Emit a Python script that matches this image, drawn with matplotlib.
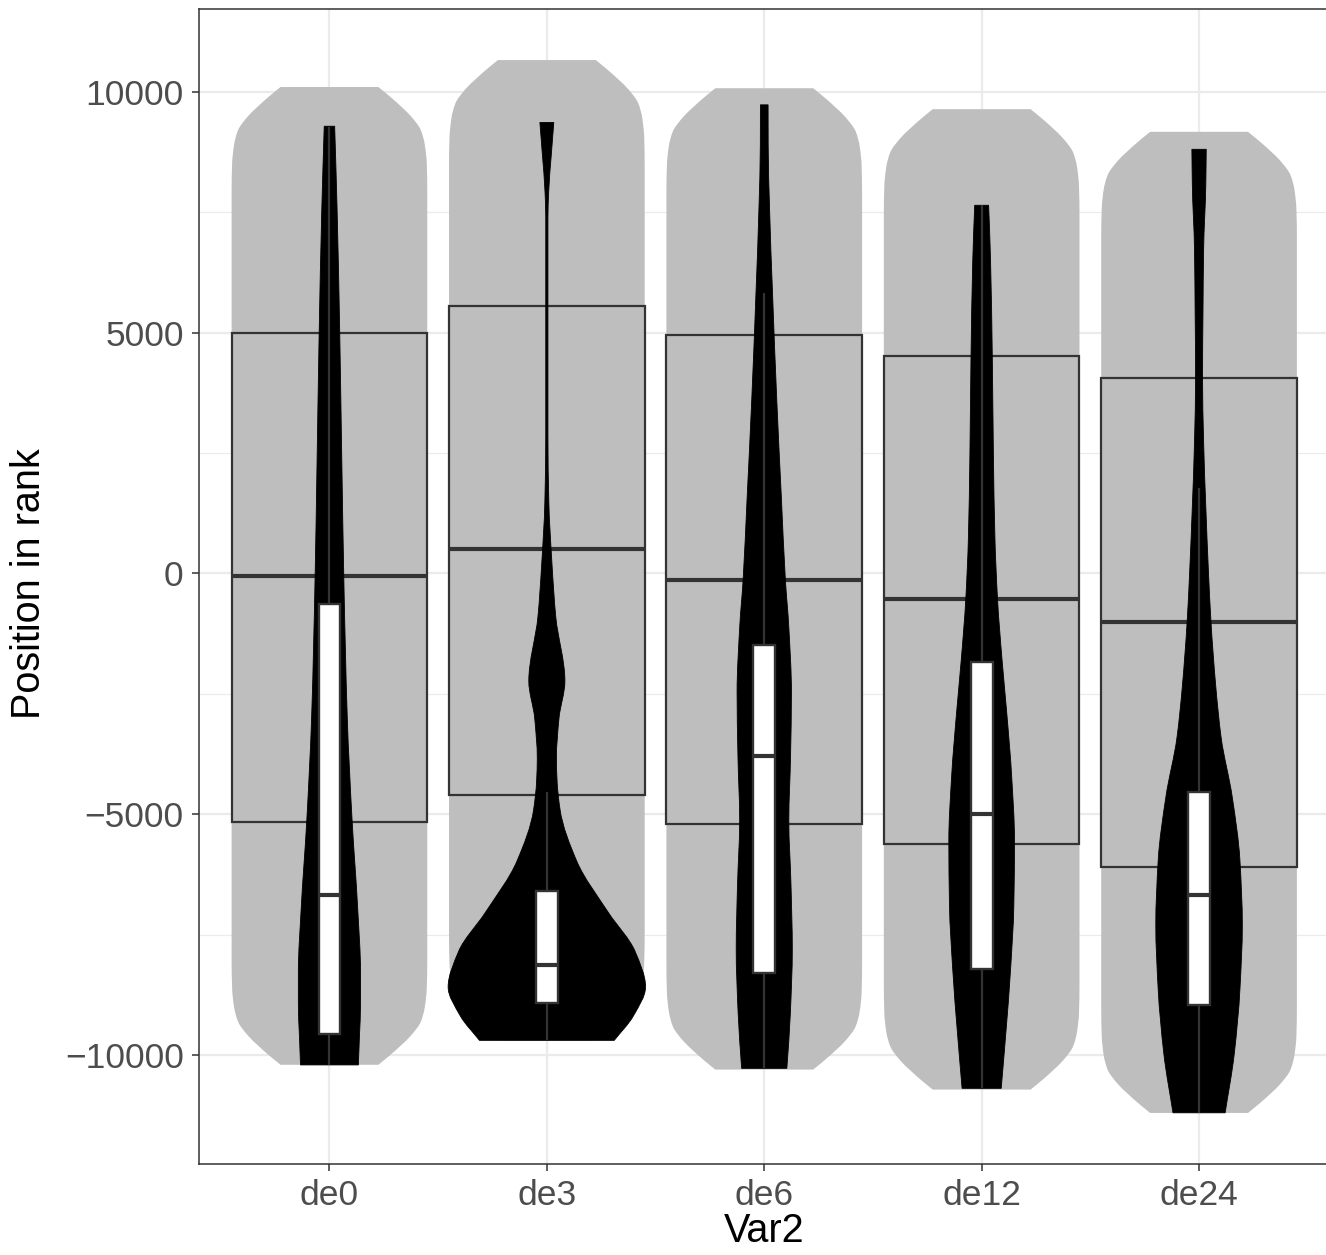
import numpy as np
import matplotlib
matplotlib.use("Agg")
import matplotlib.pyplot as plt
from matplotlib.path import Path
from matplotlib.patches import PathPatch, Rectangle
from matplotlib.ticker import FixedLocator

plt.rcParams['font.family'] = ['Liberation Sans', 'DejaVu Sans']

# ---------------- data ----------------
categories = ["de0", "de3", "de6", "de12", "de24"]

# gray background violins: extent and edge profile (distance from end, width fraction)
gray_top = [10100, 10660, 10075, 9640, 9170]
gray_bottom = [-10200, -9690, -10300, -10715, -11200]
gray_edge_dist = [0, 200, 400, 600, 900, 1200, 1600, 2200]
gray_edge_frac = [0.50, 0.62, 0.73, 0.83, 0.935, 0.975, 0.995, 1.0]

# gray boxes (quartiles / median)
gray_q1 = [-5150, -4600, -5200, -5625, -6095]
gray_med = [-55, 505, -130, -535, -1000]
gray_q3 = [4985, 5555, 4945, 4520, 4050]

# black violins: y values (top -> bottom) and half-widths (category units)
de0_y = [9286, 7591, 4946, 2299, -81, -2994, -5110, -6963, -8286, -8946, -9608, -10203]
de0_w = [0.024, 0.035, 0.0475, 0.057, 0.066, 0.082, 0.104, 0.130, 0.143, 0.143, 0.138, 0.133]

de3_y = [9365, 8722, 7921, 7386, 2842, 1506, 170, -898, -2234, -3000, -3838, -4300, -4909,
         -5977, -7046, -7848, -8583, -9185, -9693]
de3_w = [0.032, 0.021, 0.0084, 0.005, 0.005, 0.009, 0.024, 0.041, 0.083, 0.056, 0.044, 0.047,
         0.061, 0.138, 0.284, 0.406, 0.454, 0.398, 0.310]

de6_y = [9730, 8903, 7566, 5828, 3556, 1552, -118, -1120, -2456, -3793, -5129, -6466, -7803,
         -9139, -10274]
de6_w = [0.0176, 0.018, 0.0245, 0.038, 0.058, 0.079, 0.097, 0.113, 0.125, 0.121, 0.113, 0.123,
         0.129, 0.120, 0.104]

de12_y = [7645, 6483, 4479, 2474, 737, -533, -1803, -2871, -4208, -5544, -6881, -8218, -9554,
          -10689]
de12_w = [0.032, 0.041, 0.049, 0.054, 0.061, 0.073, 0.094, 0.115, 0.138, 0.151, 0.148, 0.133,
          0.111, 0.090]

de24_y = [8807, 8073, 6736, 5400, 4064, 2727, 1390, 54, -1015, -2351, -3421, -4623, -5959,
          -7296, -8633, -9969, -11197]
de24_w = [0.033, 0.031, 0.021, 0.018, 0.016, 0.021, 0.031, 0.043, 0.055, 0.077, 0.102, 0.152,
          0.188, 0.199, 0.188, 0.162, 0.120]

black_y = [de0_y, de3_y, de6_y, de12_y, de24_y]
black_w = [de0_w, de3_w, de6_w, de12_w, de24_w]

# white boxplots
white_q1 = [-9555, -8915, -8295, -8220, -8950]
white_med = [-6685, -8130, -3795, -4985, -6680]
white_q3 = [-635, -6590, -1480, -1840, -4545]
white_lo = [-10200, -9690, -10275, -10690, -11197]
white_hi = [9280, -4535, 5830, 7645, 1765]

# ---------------- styling ----------------
GRAY = "#BEBEBE"
DARK = "#333333"
DPI = 100
W, H = 1326, 1255


def pchip_slopes(y, x):
    h = np.diff(y)
    d = np.diff(x) / h
    n = len(y)
    m = np.zeros(n)
    m[0] = d[0]
    m[-1] = d[-1]
    for i in range(1, n - 1):
        if d[i - 1] * d[i] <= 0:
            m[i] = 0.0
        else:
            w1 = 2 * h[i] + h[i - 1]
            w2 = h[i] + 2 * h[i - 1]
            m[i] = (w1 + w2) / (w1 / d[i - 1] + w2 / d[i])
    return m


def side_beziers(y, x):
    """Smooth monotone-in-y curve through (x_i, y_i); y ascending.
    Returns Bezier verts (excluding the first point)."""
    m = pchip_slopes(y, x)
    verts = []
    for i in range(len(y) - 1):
        hh = y[i + 1] - y[i]
        verts.append((x[i] + m[i] * hh / 3, y[i] + hh / 3))
        verts.append((x[i + 1] - m[i + 1] * hh / 3, y[i + 1] - hh / 3))
        verts.append((x[i + 1], y[i + 1]))
    return verts


def violin_patch(ax, center, ys, ws, **kw):
    ys = np.asarray(ys, float)
    ws = np.asarray(ws, float)
    order = np.argsort(ys)
    yb = ys[order]
    wb = ws[order]
    verts = [(center + wb[0], yb[0])]
    codes = [Path.MOVETO]
    rv = side_beziers(yb, center + wb)
    verts += rv
    codes += [Path.CURVE4] * len(rv)
    # left side: top -> bottom (use negative y ordering)
    verts.append((center - wb[-1], yb[-1]))
    codes.append(Path.LINETO)
    lv = side_beziers(-yb[::-1], center - wb[::-1])
    lv = [(vx, -vy) for (vx, vy) in lv]
    verts += lv
    codes += [Path.CURVE4] * len(lv)
    verts.append((center + wb[0], yb[0]))
    codes.append(Path.CLOSEPOLY)
    p = PathPatch(Path(np.array(verts), codes), **kw)
    ax.add_patch(p)


fig = plt.figure(figsize=(W / DPI, H / DPI), dpi=DPI)
ax = fig.add_axes([199 / W, 91 / H, 1130.5 / W, 1155 / H])
ax.set_xlim(0.4, 5.6)
ax.set_ylim(-12260, 11720)

xpos = np.arange(1, len(categories) + 1)

for i, c in enumerate(xpos):
    # gray violin
    d = np.array(gray_edge_dist, float)
    f = np.array(gray_edge_frac, float)
    ys = np.concatenate([gray_bottom[i] + d, (gray_top[i] - d)[::-1]])
    ws = np.concatenate([f, f[::-1]]) * 0.45
    violin_patch(ax, c, ys, ws, facecolor=GRAY, edgecolor='none', zorder=2)

    # gray box
    ax.add_patch(Rectangle((c - 0.45, gray_q1[i]), 0.9, gray_q3[i] - gray_q1[i],
                           facecolor=GRAY, edgecolor=DARK, lw=1.6, zorder=3))
    ax.plot([c - 0.45, c + 0.45], [gray_med[i]] * 2, color=DARK, lw=3.0,
            solid_capstyle='butt', zorder=3.1)

    # black violin
    violin_patch(ax, c, black_y[i], black_w[i], facecolor='black', edgecolor='black',
                 lw=0.6, zorder=4)

    # white boxplot
    ax.plot([c, c], [white_q3[i], white_hi[i]], color=DARK, lw=1.6, zorder=5,
            solid_capstyle='butt')
    ax.plot([c, c], [white_lo[i], white_q1[i]], color=DARK, lw=1.6, zorder=5,
            solid_capstyle='butt')
    ax.add_patch(Rectangle((c - 0.05, white_q1[i]), 0.1, white_q3[i] - white_q1[i],
                           facecolor='white', edgecolor=DARK, lw=1.7, zorder=5.1))
    ax.plot([c - 0.05, c + 0.05], [white_med[i]] * 2, color=DARK, lw=3.0,
            solid_capstyle='butt', zorder=5.2)

# axes styling (theme_bw look)
ax.set_xticks(xpos)
ax.set_xticklabels(categories)
ax.set_yticks([-10000, -5000, 0, 5000, 10000])
ax.yaxis.set_minor_locator(FixedLocator([-7500, -2500, 2500, 7500]))
ax.set_axisbelow(True)
ax.grid(which='major', color='#EBEBEB', lw=1.6)
ax.grid(which='minor', axis='y', color='#EBEBEB', lw=0.8)
ax.tick_params(which='major', length=5, width=1.1, color=DARK, pad=6,
               labelsize=25.5, labelcolor='#4D4D4D')
ax.tick_params(which='minor', length=0)
for sp in ax.spines.values():
    sp.set_color(DARK)
    sp.set_linewidth(1.1)

fig.text(29 / W, 1 - 584 / H, "Position in rank", rotation=90, ha='center', va='center',
         fontsize=28.5, color='black')
fig.text(764 / W, 1 - 1231 / H, "Var2", ha='center', va='center', fontsize=28.5,
         color='black')

fig.savefig("out.png", dpi=DPI)
